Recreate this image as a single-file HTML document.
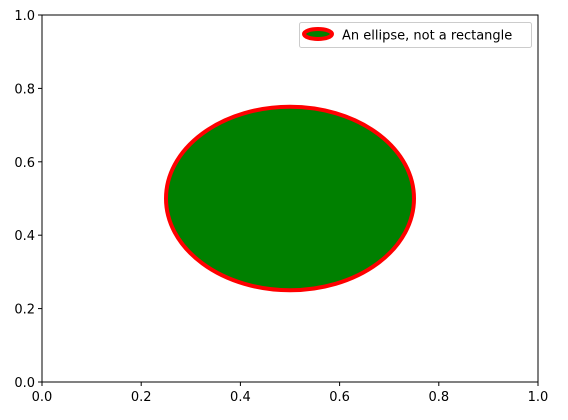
<!DOCTYPE html>
<html><head><meta charset="utf-8"><style>
body{margin:0;background:#fff}
svg{display:block;font-family:"DejaVu Sans","Liberation Sans",sans-serif}
</style></head><body>
<svg id="chart" width="568" height="420"></svg>
<script>
const xTicks=[0,0.2,0.4,0.6,0.8,1.0];
const yTicks=[0,0.2,0.4,0.6,0.8,1.0];
const ellipseCenter=[0.5,0.5];
const ellipseSize=[0.5,0.5];
const legendLabels=["An ellipse, not a rectangle"];
const L=42,R=538,T=15,B=382;
const sx=v=>L+(R-L)*v, sy=v=>B-(B-T)*v;
const NS="http://www.w3.org/2000/svg";
const svg=document.getElementById('chart');
function mk(t,a,p){const e=document.createElementNS(NS,t);for(const k in a)e.setAttribute(k,a[k]);(p||svg).appendChild(e);return e;}
const el=mk('ellipse',{cx:sx(ellipseCenter[0]),cy:sy(ellipseCenter[1]),rx:(sx(ellipseSize[0])-sx(0))/2,ry:(sy(0)-sy(ellipseSize[1]))/2,fill:'#008000',stroke:'#ff0000','stroke-width':4});


const fr=mk('rect',{x:L,y:T,width:R-L,height:B-T,fill:'none',stroke:'#000','stroke-width':1});


xTicks.forEach(v=>{
  mk('line',{x1:sx(v),x2:sx(v),y1:B,y2:B+4,stroke:'#000'});
  const t=mk('text',{x:sx(v),y:B+19,'text-anchor':'middle','font-size':13});
  t.textContent=v.toFixed(1);
  
  
});
yTicks.forEach(v=>{
  mk('line',{x1:L-4,x2:L,y1:sy(v),y2:sy(v),stroke:'#000'});
  const t=mk('text',{x:L-7,y:sy(v)+5,'text-anchor':'end','font-size':13});
  t.textContent=v.toFixed(1);
  
  
});
const g=mk('g',{});


mk('rect',{x:299.5,y:22.5,width:232,height:25,rx:2,fill:'#fff',stroke:'#ccc'},g);
mk('ellipse',{cx:318,cy:34,rx:14,ry:5,fill:'#008000',stroke:'#ff0000','stroke-width':4},g);
const lt=mk('text',{x:342,y:39.5,'font-size':13},g);
lt.textContent=legendLabels[0];


</script>
</body></html>
